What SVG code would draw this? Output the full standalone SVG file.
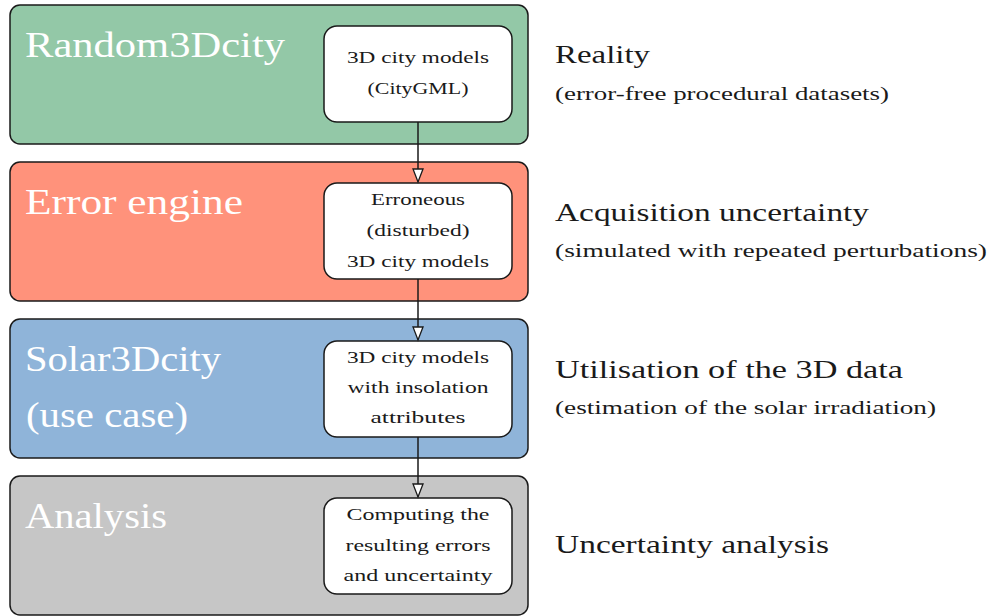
<svg xmlns="http://www.w3.org/2000/svg" width="989" height="616" viewBox="0 0 989 616">
<style>
.outer{stroke:#1a1a1a;stroke-width:1.5}
.inner{fill:#fff;stroke:#1a1a1a;stroke-width:1.5}
text{font-family:'Liberation Serif','DejaVu Serif','Times New Roman',serif}
.title{font-size:36px;fill:#fff}
.in{font-size:17px;fill:#1a1a1a;text-anchor:middle}
.h{font-size:26px;fill:#1a1a1a}
.s{font-size:19px;fill:#1a1a1a}
.conn{stroke:#1a1a1a;stroke-width:1.5;fill:none}
</style>
<defs>
<marker id="arr" markerWidth="16" markerHeight="14" refX="14" refY="6" orient="auto" markerUnits="userSpaceOnUse">
<path d="M1,1 L14,6 L1,11 Z" fill="#fff" stroke="#1a1a1a" stroke-width="1.3"/>
</marker>
</defs>
<g id="random3dcity">
<rect class="outer" x="10" y="5" width="518" height="139" rx="10" fill="#93c8a7"/>
<text class="title" x="25" y="57" textLength="260" lengthAdjust="spacingAndGlyphs">Random3Dcity</text>
<rect class="inner" x="324" y="26" width="188" height="96" rx="13"/>
<text class="in" x="418" y="63" textLength="142" lengthAdjust="spacingAndGlyphs">3D city models</text>
<text class="in" x="418" y="94" textLength="101" lengthAdjust="spacingAndGlyphs">(CityGML)</text>
</g>
<g id="error-engine">
<rect class="outer" x="10" y="162" width="518" height="139" rx="10" fill="#ff927b"/>
<text class="title" x="25" y="214" textLength="218" lengthAdjust="spacingAndGlyphs">Error engine</text>
<rect class="inner" x="324" y="183" width="188" height="96" rx="13"/>
<text class="in" x="418" y="205" textLength="94" lengthAdjust="spacingAndGlyphs">Erroneous</text>
<text class="in" x="418" y="236" textLength="103" lengthAdjust="spacingAndGlyphs">(disturbed)</text>
<text class="in" x="418" y="267" textLength="142" lengthAdjust="spacingAndGlyphs">3D city models</text>
</g>
<g id="solar3dcity">
<rect class="outer" x="10" y="319" width="518" height="139" rx="10" fill="#8fb4d9"/>
<text class="title" x="25" y="371" textLength="196" lengthAdjust="spacingAndGlyphs">Solar3Dcity</text>
<text class="title" x="26" y="427" textLength="162" lengthAdjust="spacingAndGlyphs">(use case)</text>
<rect class="inner" x="324" y="341" width="188" height="96" rx="13"/>
<text class="in" x="418" y="363" textLength="142" lengthAdjust="spacingAndGlyphs">3D city models</text>
<text class="in" x="418" y="393" textLength="141" lengthAdjust="spacingAndGlyphs">with insolation</text>
<text class="in" x="418" y="423" textLength="95" lengthAdjust="spacingAndGlyphs">attributes</text>
</g>
<g id="analysis">
<rect class="outer" x="10" y="476" width="518" height="139" rx="10" fill="#c6c6c6"/>
<text class="title" x="25" y="528" textLength="142" lengthAdjust="spacingAndGlyphs">Analysis</text>
<rect class="inner" x="324" y="498" width="188" height="96" rx="13"/>
<text class="in" x="418" y="520" textLength="143" lengthAdjust="spacingAndGlyphs">Computing the</text>
<text class="in" x="418" y="551" textLength="145" lengthAdjust="spacingAndGlyphs">resulting errors</text>
<text class="in" x="418" y="581" textLength="149" lengthAdjust="spacingAndGlyphs">and uncertainty</text>
</g>
<g id="labels">
<text class="h" x="555" y="63" textLength="95" lengthAdjust="spacingAndGlyphs">Reality</text>
<text class="s" x="555" y="100" textLength="334" lengthAdjust="spacingAndGlyphs">(error-free procedural datasets)</text>
<text class="h" x="555" y="221" textLength="314" lengthAdjust="spacingAndGlyphs">Acquisition uncertainty</text>
<text class="s" x="555" y="257" textLength="432" lengthAdjust="spacingAndGlyphs">(simulated with repeated perturbations)</text>
<text class="h" x="555" y="378" textLength="348" lengthAdjust="spacingAndGlyphs">Utilisation of the 3D data</text>
<text class="s" x="555" y="414" textLength="381" lengthAdjust="spacingAndGlyphs">(estimation of the solar irradiation)</text>
<text class="h" x="555" y="553" textLength="274" lengthAdjust="spacingAndGlyphs">Uncertainty analysis</text>
</g>
<g id="connectors">
<line class="conn" x1="418" y1="122" x2="418" y2="182" marker-end="url(#arr)"/>
<line class="conn" x1="418" y1="279" x2="418" y2="340" marker-end="url(#arr)"/>
<line class="conn" x1="418" y1="437" x2="418" y2="497" marker-end="url(#arr)"/>
</g>
</svg>
